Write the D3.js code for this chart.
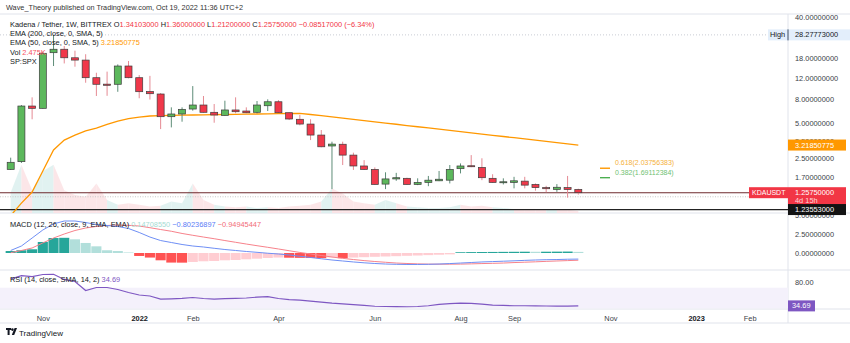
<!DOCTYPE html>
<html><head><meta charset="utf-8">
<script src="https://cdn.jsdelivr.net/npm/d3@7"></script>
<style>
body{margin:0;background:#fff;}
svg text{font-family:"Liberation Sans",Arial,sans-serif;}
</style></head><body>
<svg id="c" width="850" height="343"></svg>
<script>
// ---------- DATA (weekly KDA/USDT, Bittrex) ----------
const startWeek = new Date(2021, 9, 11), endWeek = new Date(2022, 9, 17);
const opens  = [1.99,2.32,6.95,6.64,19.9,21.3,18.0,17.2,12.15,10.7,10.67,15.3,12.15,9.25,8.81,5.63,5.94,6.55,7.09,6.14,5.78,6.43,6.30,6.14,6.99,7.56,6.09,5.35,4.87,3.92,3.16,3.27,2.64,2.13,1.99,1.49,1.65,1.67,1.48,1.54,1.59,1.61,2.02,2.14,2.07,1.67,1.53,1.54,1.58,1.48,1.39,1.34,1.39,1.34103];
const highs  = [2.51,7.09,8.25,20.3,28.28,22.7,20.7,19.3,13.4,13.7,15.8,16.9,12.8,12.6,8.98,6.77,6.77,10.3,8.47,7.23,7.72,8.25,6.77,7.67,7.93,7.82,6.12,5.82,5.35,4.33,3.44,3.44,2.77,2.39,2.07,1.88,1.86,1.69,1.67,1.75,1.93,2.17,2.24,2.64,2.48,1.81,1.67,1.72,1.72,1.51,1.44,1.49,1.75,1.36];
const lows   = [1.97,2.26,5.35,6.6,15.3,16.1,15.1,11.0,8.47,8.5,9.2,12.0,8.1,7.9,4.41,4.56,5.10,6.34,6.1,5.0,5.75,6.02,6.02,6.02,6.30,6.05,5.27,4.75,3.55,3.08,1.35,2.17,1.97,1.97,1.47,1.35,1.59,1.47,1.46,1.43,1.58,1.51,1.84,2.08,1.61,1.53,1.48,1.37,1.37,1.31,1.27,1.28,1.14,1.212];
const closes = [2.29,6.95,6.64,19.66,21.3,18.0,17.2,12.15,10.67,10.46,15.3,12.15,9.22,8.86,5.63,5.94,6.51,7.09,6.14,5.82,6.43,6.21,6.09,7.09,7.56,6.09,5.38,4.87,3.92,3.11,3.28,2.64,2.13,1.99,1.48,1.65,1.69,1.48,1.54,1.61,1.64,1.99,2.13,2.10,1.69,1.54,1.56,1.59,1.46,1.39,1.36,1.40,1.34,1.2575];
const ema50  = [0.8,1.025,1.274,1.93,2.92,3.55,3.92,4.25,4.50,4.83,5.17,5.43,5.59,5.71,5.76,5.78,5.80,5.82,5.84,5.86,5.88,5.90,5.92,5.94,5.96,5.98,6.0,6.02,5.88,5.74,5.60,5.47,5.34,5.21,5.09,4.97,4.85,4.73,4.62,4.51,4.40,4.30,4.20,4.10,4.00,3.90,3.81,3.72,3.63,3.55,3.46,3.38,3.30,3.2185];
const volumesK = [25,59,28,51,59,28,22,20,36,16,10,12,10,8,9,14,12,36,16,10,8,7,8,6,7,6,8,9,10,14,30,24,14,12,10,16,12,8,7,6,6,7,10,8,9,7,6,5,5,5,4,4,4,2.5];
const macdLine   = [0.33,0.92,1.97,3.03,3.82,4.21,4.21,4.01,3.75,3.62,3.49,3.22,2.7,2.1,1.64,1.38,1.12,0.92,0.79,0.62,0.46,0.33,0.2,0.09,-0.03,-0.13,-0.26,-0.43,-0.59,-0.76,-0.92,-1.05,-1.18,-1.29,-1.38,-1.45,-1.49,-1.51,-1.51,-1.49,-1.45,-1.39,-1.32,-1.25,-1.18,-1.13,-1.08,-1.03,-0.97,-0.92,-0.88,-0.86,-0.82,-0.80];
const signalLine = [0.04,0.33,0.66,1.32,1.97,2.5,2.96,3.29,3.49,3.62,3.68,3.64,3.55,3.33,3.09,2.86,2.57,2.33,2.1,1.88,1.64,1.41,1.18,0.96,0.75,0.53,0.3,0.07,-0.13,-0.33,-0.53,-0.7,-0.86,-1.0,-1.12,-1.22,-1.32,-1.38,-1.43,-1.46,-1.47,-1.47,-1.46,-1.43,-1.39,-1.36,-1.32,-1.26,-1.21,-1.16,-1.1,-1.05,-1.0,-0.95];
const histogram  = [0.26,0.36,0.49,1.45,1.97,2.0,1.8,1.32,0.88,0.36,0.26,0.07,-0.39,-0.6,-0.96,-1.26,-1.27,-1.18,-1.09,-1.05,-0.96,-0.92,-0.83,-0.75,-0.66,-0.6,-0.62,-0.64,-0.66,-0.68,-0.58,-0.68,-0.6,-0.55,-0.5,-0.46,-0.42,-0.37,-0.33,-0.28,-0.23,-0.18,0.1,0.12,0.13,0.14,0.15,0.16,0.17,0.16,0.17,0.18,0.19,0.147];
const rsiValues  = [86.9,93.3,91.7,95.6,96,86,82,64.6,70.4,70.4,66.5,60.7,55.8,53.9,48,48.4,49.2,51,49,48,48.6,49.4,50,51.6,52.5,49,47,46,44,42,40,38.5,37,35.5,34,33.5,33.2,33,33.5,35,37.5,39,40,39.5,38,36,35.5,35,35,34.8,34.5,34.3,34.4,34.69];
const priceTicks = [40,18,12,8,5,3.5,2.5,1.7];
const macdTicks = [5,2.5,0];
const rsiTicks = [80];
const timeTicks = [["2021-11-01","Nov"],["2022-01-03","2022"],["2022-02-07","Feb"],["2022-04-04","Apr"],["2022-06-06","Jun"],["2022-08-01","Aug"],["2022-09-05","Sep"],["2022-11-07","Nov"],["2023-01-02","2023"],["2023-02-06","Feb"]];
const athHigh = 28.27773, lastClose = 1.2575, emaLast = 3.21850775;
const macdLegend = ["0.14708550", "−0.80236897", "−0.94945447"];
const fib = [{lvl:"0.618", price:2.03756383, color:"#f5b03a", line:"#ff9800"},{lvl:"0.382", price:1.69112384, color:"#6fbf73", line:"#4caf50"}];
const dottedLevel = 1.16, spxLevel = 0.902, spxLabel = "1.23553000";

// ---------- LAYOUT ----------
const W = 850, plotR = 788;
const paneMain = [14, 213], paneMacd = [213, 270], paneRsi = [270, 309], axisBottom = 323;
const svg = d3.select("#c");
const dates = d3.timeMonday.range(startWeek, d3.timeDay.offset(endWeek, 1));
const x = d3.scaleTime().domain([startWeek, endWeek]).range([10.7, 578.3]);
const step = x(dates[1]) - x(dates[0]);
const yP = d3.scaleLog().domain([40, lastClose]).range([17.3, 192.7]);
const yV = d3.scaleLinear().domain([0, 60]).range([paneMain[1], 164]);
const yM = d3.scaleLinear().domain([0, 5]).range([253, 215]);
const yR = d3.scaleLinear().domain([70, 30]).range([287.7, 308.3]);
const idx = d3.range(dates.length);
const FS = 7.4;
const axisTxt = "#3c3f48";

// clip paths
const defs = svg.append("defs");
[["cm", paneMain], ["cc", paneMacd], ["cr", paneRsi]].forEach(([id, p]) => {
  defs.append("clipPath").attr("id", id).append("rect").attr("x", 0).attr("y", p[0]).attr("width", plotR).attr("height", p[1] - p[0]);
});

// header
svg.append("text").attr("x", 6).attr("y", 10).attr("font-size", 7.3).attr("fill", "#333")
  .text("Wave_Theory published on TradingView.com, Oct 19, 2022 11:36 UTC+2");

// frame lines
const lineC = "#e0e3eb";
[paneMain[0], paneMain[1], paneMacd[1], paneRsi[1], axisBottom].forEach(yy =>
  svg.append("line").attr("x1", 0).attr("x2", W).attr("y1", yy).attr("y2", yy).attr("stroke", lineC).attr("stroke-width", 1));
svg.append("line").attr("x1", plotR).attr("x2", plotR).attr("y1", paneMain[0]).attr("y2", axisBottom).attr("stroke", lineC);

// ---------- MAIN PANE ----------
const gm = svg.append("g").attr("clip-path", "url(#cm)");
const up = i => closes[i] >= opens[i];
for (let i = 0; i < idx.length - 1; i++) {
  const pts = [[x(dates[i]), yV(volumesK[i])], [x(dates[i + 1]), yV(volumesK[i + 1])], [x(dates[i + 1]), yV(0)], [x(dates[i]), yV(0)]];
  gm.append("path").attr("d", d3.line()(pts) + "Z")
    .attr("fill", up(i + 1) ? "#d9efed" : "#fbe0e2").attr("opacity", 0.8);
}
gm.append("line").attr("x1", 0).attr("x2", plotR).attr("y1", yP(athHigh)).attr("y2", yP(athHigh))
  .attr("stroke", "#c9ccd4").attr("stroke-dasharray", "1,2");
gm.append("line").attr("x1", 0).attr("x2", plotR).attr("y1", yP(dottedLevel)).attr("y2", yP(dottedLevel))
  .attr("stroke", "#c8c8c8").attr("stroke-dasharray", "1,1.5");
gm.append("line").attr("x1", 0).attr("x2", plotR).attr("y1", yP(lastClose)).attr("y2", yP(lastClose))
  .attr("stroke", "#6e2a2e").attr("stroke-width", 1.1);
gm.append("line").attr("x1", 0).attr("x2", plotR).attr("y1", yP(spxLevel)).attr("y2", yP(spxLevel))
  .attr("stroke", "#222").attr("stroke-width", 1.3);
gm.append("path").datum(idx).attr("fill", "none").attr("stroke", "#ff9800").attr("stroke-width", 1.3)
  .attr("d", d3.line().x(i => x(dates[i])).y(i => yP(ema50[i])));
const bodyW = 7;
gm.selectAll("line.wick").data(idx).join("line").attr("class", "wick")
  .attr("x1", i => x(dates[i])).attr("x2", i => x(dates[i]))
  .attr("y1", i => yP(highs[i])).attr("y2", i => yP(lows[i]))
  .attr("stroke", i => up(i) ? "#5e8d78" : "#e58a93").attr("stroke-width", 1);
gm.selectAll("rect.body").data(idx).join("rect").attr("class", "body")
  .attr("x", i => x(dates[i]) - bodyW / 2).attr("width", bodyW)
  .attr("y", i => yP(Math.max(opens[i], closes[i])))
  .attr("height", i => Math.max(1, Math.abs(yP(opens[i]) - yP(closes[i]))))
  .attr("fill", i => up(i) ? "#5cb85c" : "#f0384a")
  .attr("stroke", "#3d3d3d").attr("stroke-width", 0.7);
fib.forEach(f => {
  const yy = yP(f.price);
  svg.append("line").attr("x1", 600).attr("x2", 610).attr("y1", yy).attr("y2", yy).attr("stroke", f.line).attr("stroke-width", 1.4);
  svg.append("text").attr("x", 615).attr("y", yy - 3).attr("font-size", 7).attr("fill", f.color)
    .text(`${f.lvl}(${f.price.toFixed(8)})`);
});

// legend main
const lg = svg.append("text").attr("x", 10).attr("y", 27).attr("font-size", FS).attr("fill", "#131722");
lg.append("tspan").text("Kadena / Tether, 1W, BITTREX  ");
[["O", opens[53].toFixed(8)], ["H", highs[53].toFixed(8)], ["L", lows[53].toFixed(8)], ["C", closes[53].toFixed(8)]].forEach(([k, v]) => {
  lg.append("tspan").text(" " + k);
  lg.append("tspan").attr("fill", "#f23645").text(v);
});
lg.append("tspan").attr("fill", "#f23645").text(" −0.08517000 (−6.34%)");
svg.append("text").attr("x", 10).attr("y", 36).attr("font-size", FS).attr("fill", "#131722").text("EMA (200, close, 0, SMA, 5)");
const l3 = svg.append("text").attr("x", 10).attr("y", 45).attr("font-size", FS).attr("fill", "#131722");
l3.append("tspan").text("EMA (50, close, 0, SMA, 5)  ");
l3.append("tspan").attr("fill", "#ff9800").text(emaLast.toFixed(8));
const l4 = svg.append("text").attr("x", 10).attr("y", 54.5).attr("font-size", FS).attr("fill", "#131722");
l4.append("tspan").text("Vol  ");
l4.append("tspan").attr("fill", "#f7525f").text("2.475K");
svg.append("text").attr("x", 10).attr("y", 64).attr("font-size", FS).attr("fill", "#131722").text("SP:SPX");

// ---------- MACD PANE ----------
const gc = svg.append("g").attr("clip-path", "url(#cc)");
gc.selectAll("rect.h").data(idx).join("rect").attr("class", "h")
  .attr("x", i => x(dates[i]) - step / 2 + 0.3).attr("width", step - 0.6)
  .attr("y", i => yM(Math.max(0, histogram[i])))
  .attr("height", i => Math.abs(yM(histogram[i]) - yM(0)))
  .attr("fill", i => {
    const v = histogram[i], p = i > 0 ? histogram[i - 1] : -Infinity;
    if (v >= 0) return (i === 0 || v > p) ? "#26a69a" : "#b2dfdb";
    return v < p ? "#ff5252" : "#ffcdd2";
  });
gc.append("path").datum(idx).attr("fill", "none").attr("stroke", "#f7828b").attr("stroke-width", 1)
  .attr("d", d3.line().x(i => x(dates[i])).y(i => yM(signalLine[i])));
gc.append("path").datum(idx).attr("fill", "none").attr("stroke", "#6f8ff5").attr("stroke-width", 1)
  .attr("d", d3.line().x(i => x(dates[i])).y(i => yM(macdLine[i])));
const ml = svg.append("text").attr("x", 10).attr("y", 226.5).attr("font-size", FS).attr("fill", "#131722");
ml.append("tspan").text("MACD (12, 26, close, 9, EMA, EMA)  ");
ml.append("tspan").attr("fill", "#a5dcd3").text(macdLegend[0]);
ml.append("tspan").attr("fill", "#5b7cf6").text("  " + macdLegend[1]);
ml.append("tspan").attr("fill", "#f26c77").text("  " + macdLegend[2]);

// ---------- RSI PANE ----------
const gr = svg.append("g").attr("clip-path", "url(#cr)");
gr.append("rect").attr("x", 0).attr("width", plotR).attr("y", yR(70)).attr("height", yR(30) - yR(70)).attr("fill", "#f4f1fb");
gr.append("path").datum(idx).attr("fill", "none").attr("stroke", "#7e57c2").attr("stroke-width", 1.2)
  .attr("d", d3.line().x(i => x(dates[i])).y(i => yR(rsiValues[i])));
const rl = svg.append("text").attr("x", 10).attr("y", 281.5).attr("font-size", FS).attr("fill", "#131722");
rl.append("tspan").text("RSI (14, close, SMA, 14, 2)  ");
rl.append("tspan").attr("fill", "#7e57c2").text(rsiValues[53].toFixed(2));

// ---------- AXES ----------
function styleAxis(g) {
  g.select(".domain").remove();
  g.selectAll("text").attr("font-size", FS).attr("fill", axisTxt).attr("font-family", '"Liberation Sans",Arial,sans-serif');
}
svg.append("g").attr("transform", `translate(${plotR},0)`)
  .call(d3.axisRight(yP).tickValues(priceTicks).tickFormat(d3.format(".8f")).tickSize(0).tickPadding(7)).call(styleAxis);
svg.append("g").attr("transform", `translate(${plotR},0)`)
  .call(d3.axisRight(yM).tickValues(macdTicks).tickFormat(d3.format(".8f")).tickSize(0).tickPadding(7)).call(styleAxis);
svg.append("g").attr("transform", `translate(${plotR},0)`)
  .call(d3.axisRight(yR).tickValues(rsiTicks).tickFormat(d3.format(".2f")).tickSize(0).tickPadding(7)).call(styleAxis);
const tParse = d3.timeParse("%Y-%m-%d");
const tMap = new Map(timeTicks.map(([d, l]) => [+tParse(d), l]));
svg.append("g").attr("transform", `translate(0,${paneRsi[1]})`)
  .call(d3.axisBottom(x).tickValues(timeTicks.map(t => tParse(t[0]))).tickFormat(d => tMap.get(+d)).tickSize(0).tickPadding(5))
  .call(styleAxis)
  .selectAll("text").attr("dy", "0.95em").attr("font-weight", d => /^\d{4}$/.test(tMap.get(+d)) ? "bold" : "normal")
  .attr("fill", d => /^\d{4}$/.test(tMap.get(+d)) ? "#131722" : axisTxt);

// ---------- PRICE LABEL BOXES ----------
svg.append("rect").attr("x", 768).attr("y", yP(athHigh) - 5.5).attr("width", 82).attr("height", 11).attr("fill", "#e3eefb");
svg.append("line").attr("x1", plotR).attr("x2", plotR).attr("y1", yP(athHigh) - 5.5).attr("y2", yP(athHigh) + 5.5).attr("stroke", "#3b4a63");
svg.append("text").attr("x", 770).attr("y", yP(athHigh) + 2.5).attr("font-size", FS).attr("fill", "#131722").text("High");
svg.append("text").attr("x", 795).attr("y", yP(athHigh) + 2.5).attr("font-size", FS).attr("fill", "#131722").text(athHigh.toFixed(8));
svg.append("rect").attr("x", plotR).attr("y", yP(emaLast) - 5.5).attr("width", 58).attr("height", 11).attr("fill", "#ff9800");
svg.append("text").attr("x", 795).attr("y", yP(emaLast) + 2.5).attr("font-size", FS).attr("fill", "#fff").text(emaLast.toFixed(8));
svg.append("rect").attr("x", 749).attr("y", yP(lastClose) - 5.5).attr("width", 39).attr("height", 11).attr("fill", "#f23645");
svg.append("text").attr("x", 752).attr("y", yP(lastClose) + 2.5).attr("font-size", 7).attr("fill", "#fff").text("KDAUSDT");
svg.append("rect").attr("x", plotR).attr("y", yP(lastClose) - 5.5).attr("width", 58).attr("height", 18).attr("fill", "#f23645");
svg.append("text").attr("x", 795).attr("y", yP(lastClose) + 2.5).attr("font-size", FS).attr("fill", "#fff").text(lastClose.toFixed(8));
svg.append("text").attr("x", 795).attr("y", yP(lastClose) + 10.5).attr("font-size", FS).attr("fill", "#ffd6da").text("4d 15h");
svg.append("rect").attr("x", plotR).attr("y", yP(spxLevel) - 5.5).attr("width", 58).attr("height", 11).attr("fill", "#131313");
svg.append("text").attr("x", 795).attr("y", yP(spxLevel) + 2.5).attr("font-size", FS).attr("fill", "#fff").text(spxLabel);
svg.append("rect").attr("x", plotR).attr("y", yR(rsiValues[53]) - 5.5).attr("width", 27).attr("height", 11).attr("fill", "#7e57c2");
svg.append("text").attr("x", 792).attr("y", yR(rsiValues[53]) + 2.5).attr("font-size", FS).attr("fill", "#fff").text(rsiValues[53].toFixed(2));

// ---------- FOOTER LOGO ----------
const logo = svg.append("g").attr("transform", "translate(6,328)");
logo.append("path").attr("d", "M0,0H5V2H3.6V7H1.6V2H0Z").attr("fill", "#131722");
logo.append("circle").attr("cx", 6.4).attr("cy", 1.6).attr("r", 1.3).attr("fill", "#131722");
logo.append("path").attr("d", "M8.6,0H11L8.2,7H5.8Z").attr("fill", "#131722");
svg.append("text").attr("x", 19).attr("y", 335.5).attr("font-size", 8).attr("fill", "#131722").text("TradingView");
</script></body></html>
